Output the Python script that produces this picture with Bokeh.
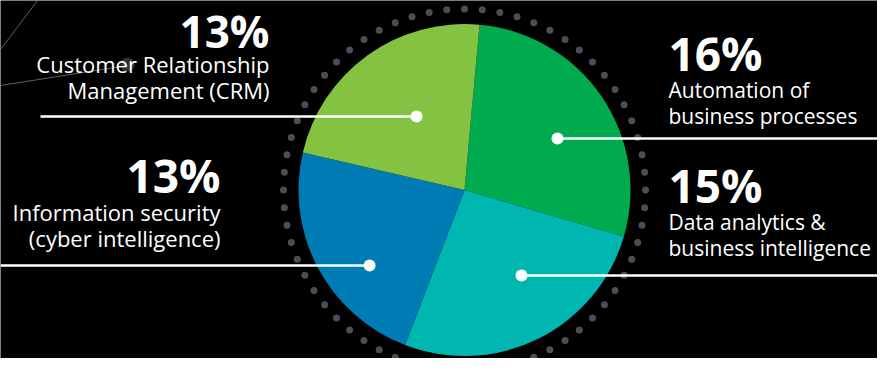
import math
import numpy as np
from bokeh.plotting import figure
from bokeh.models import Range1d, ColumnDataSource
from bokeh.core.properties import value
from bokeh.embed import file_html
from bokeh.resources import INLINE

# ---------------- data ----------------
categories = ["Automation of business processes",
              "Data analytics & business intelligence",
              "Information security (cyber intelligence)",
              "Customer Relationship Management (CRM)"]
shares = [16, 15, 13, 13]
pct_labels = ["16%", "15%", "13%", "13%"]
label_line1 = ["Automation of", "Data analytics &", "Information security", "Customer Relationship"]
label_line2 = ["business processes", "business intelligence", "(cyber intelligence)", "Management (CRM)"]
colors = ["#00AA4F", "#00B6B0", "#007CB4", "#84C242"]

# ---------------- layout (reference pixel space, y down) ----------------
REF_H = 374
def Y(py):
    return REF_H - py

CX, CY_PX, R = 464.0, 189.5, 166.0
RING_R, N_DOTS = 181.0, 64
START_DEG = 90 - 5.2          # first slice boundary, just right of top

# callout anchors in polar coordinates around pie center (deg, radius)
anchor_ang = [29.0, -56.3, -141.5, 123.1]
anchor_rad = [106.3, 102.8, 121.3, 87.8]
line_to_x = [893, 893, 0, 40]
text_x = [668, 668, 220, 269]
text_align = ["left", "left", "right", "right"]
pct_base = [71, 203, 193, 49]
line1_base = [99, 231, 221, 73]
line2_base = [125, 257, 247, 99]
body_size = [21, 21, 22, 22]
pct_size = [46, 46, 46, 44]
PCT_SHIFT_RATIO = 19 / 46      # renderer baseline compensation
BODY_SHIFT_RATIO = 0.43

p = figure(width=877, height=358, x_range=Range1d(0, 877), y_range=Range1d(Y(358), Y(0)),
           output_backend="svg", toolbar_location=None, min_border=0,
           x_axis_type=None, y_axis_type=None,
           background_fill_color="#000000", border_fill_color="#000000",
           outline_line_color=None)
p.grid.visible = False

# decorative faint lines (top-left)
p.line(x=[0, 37], y=[Y(49), Y(0)], line_color="#8a8a8a", line_width=1, line_alpha=0.7)
p.line(x=[0, 127], y=[Y(85), Y(65)], line_color="#8a8a8a", line_width=1, line_alpha=0.7)
p.scatter(x=[127], y=[Y(64)], size=14, fill_color="#6a6a6a", fill_alpha=0.45, line_color=None)

# dotted ring
ring_t = np.radians(90 - np.arange(N_DOTS) * 360.0 / N_DOTS)
p.scatter(x=CX + RING_R * np.cos(ring_t), y=Y(CY_PX) + RING_R * np.sin(ring_t),
          size=7, fill_color="#4c4d5b", line_color=None)

# pie
total = float(sum(shares))
cum = np.concatenate([[0], np.cumsum(shares)])
a0 = math.radians(START_DEG)
starts = a0 - cum[:-1] / total * 2 * math.pi
ends = a0 - cum[1:] / total * 2 * math.pi
src = ColumnDataSource(dict(start=starts, end=ends, color=colors, cat=categories))
p.wedge(x=CX, y=Y(CY_PX), radius=R, start_angle="start", end_angle="end",
        direction="clock", fill_color="color", line_color=None, source=src)

# callouts
for i in range(len(shares)):
    t = math.radians(anchor_ang[i])
    ax = CX + anchor_rad[i] * math.cos(t)
    ay = Y(CY_PX) + anchor_rad[i] * math.sin(t)
    p.line(x=[ax, line_to_x[i]], y=[ay, ay], line_color="#ffffff", line_width=2.5)
    p.scatter(x=[ax], y=[ay], size=12, fill_color="#ffffff", line_color=None)
    ps = pct_size[i] * PCT_SHIFT_RATIO
    p.text(x=[text_x[i]], y=[Y(pct_base[i] - ps)], text=[pct_labels[i]],
           text_font=value("Open Sans"), text_font_style="bold", text_font_size=f"{pct_size[i]}px",
           text_color="#ffffff", text_align=text_align[i], text_baseline="alphabetic")
    bs = body_size[i] * BODY_SHIFT_RATIO
    p.text(x=[text_x[i], text_x[i]],
           y=[Y(line1_base[i] - bs), Y(line2_base[i] - bs)],
           text=[label_line1[i], label_line2[i]],
           text_font=value("Open Sans"), text_font_size=f"{body_size[i]}px",
           text_color="#ffffff", text_align=text_align[i], text_baseline="alphabetic")

html = file_html(p, INLINE)
html = html.replace("<body>", '<body style="background-color:#000000;">', 1)
open("out.html", "w").write(html)
